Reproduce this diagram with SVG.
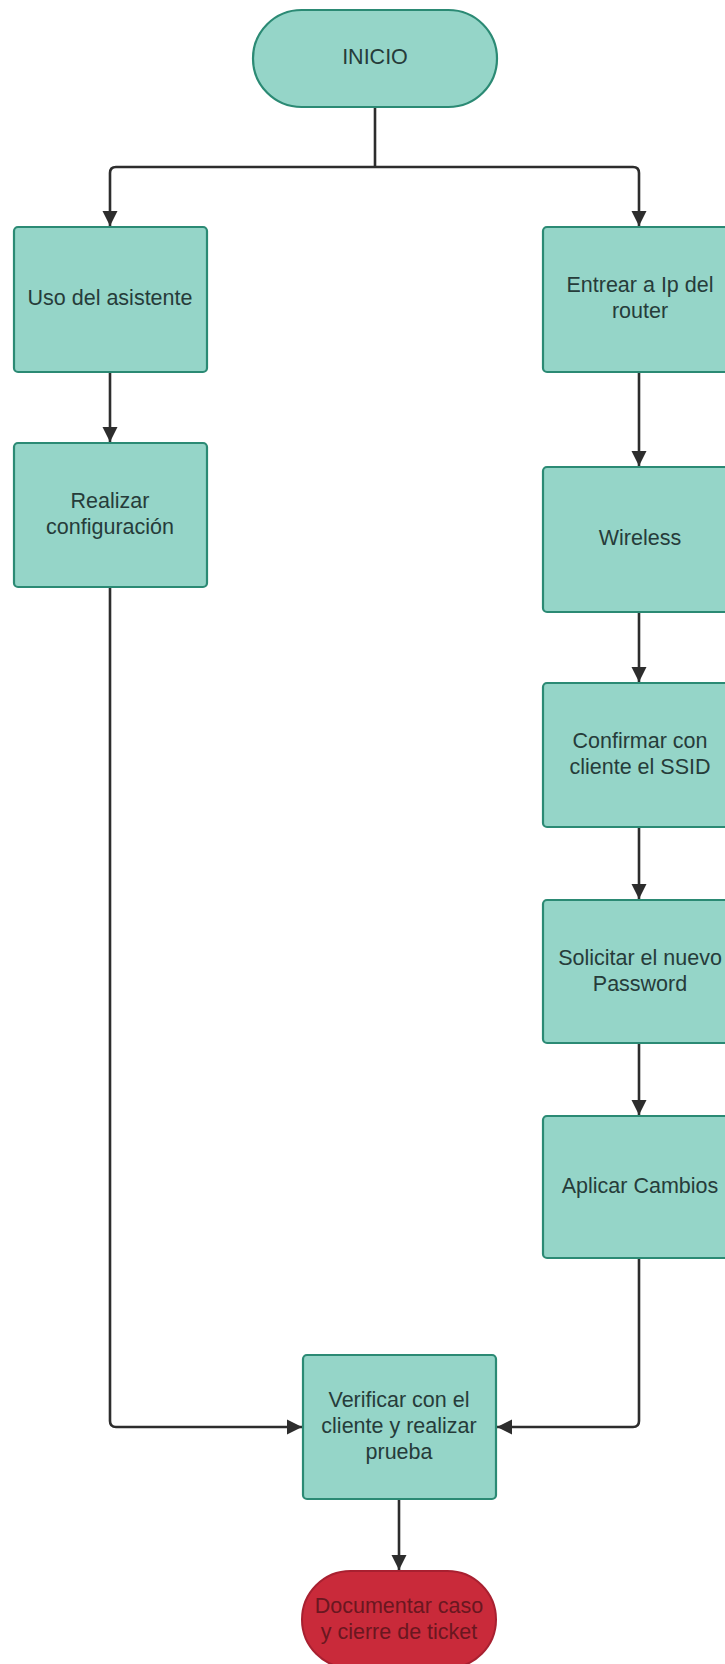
<svg xmlns="http://www.w3.org/2000/svg" width="725" height="1664" viewBox="0 0 725 1664">
<defs>
<style>
.box{fill:#95d5c8;stroke:#2b8a74;stroke-width:2.2}
.end{fill:#c92a3a;stroke:#a82030;stroke-width:2}
.t{font-family:"Liberation Sans",Arial,sans-serif;font-size:21.5px;fill:#263c3a;text-anchor:middle;dominant-baseline:central}
.tr{font-family:"Liberation Sans",Arial,sans-serif;font-size:21.5px;fill:#6a1720;text-anchor:middle;dominant-baseline:central}
.c{fill:none;stroke:#2d2d2d;stroke-width:2.6;stroke-linejoin:round}
</style>
<marker id="ah" viewBox="0 0 15 20" refX="15" refY="10" markerWidth="15" markerHeight="20" markerUnits="userSpaceOnUse" orient="auto">
<path d="M0,2.5 L15,10 L0,17.5 Z" fill="#2d2d2d"/>
</marker>
</defs>
<rect width="725" height="1664" fill="#ffffff"/>
<g id="connectors">
<path class="c" d="M375,107 V167"/>
<path class="c" d="M375,167 H116 Q110,167 110,173 V226" marker-end="url(#ah)"/>
<path class="c" d="M375,167 H633 Q639,167 639,173 V226" marker-end="url(#ah)"/>
<path class="c" d="M110,372 V442" marker-end="url(#ah)"/>
<path class="c" d="M639,372 V466" marker-end="url(#ah)"/>
<path class="c" d="M639,612 V682" marker-end="url(#ah)"/>
<path class="c" d="M639,827 V899" marker-end="url(#ah)"/>
<path class="c" d="M639,1043 V1115" marker-end="url(#ah)"/>
<path class="c" d="M110,587 V1421 Q110,1427 116,1427 H302" marker-end="url(#ah)"/>
<path class="c" d="M639,1258 V1421 Q639,1427 633,1427 H497" marker-end="url(#ah)"/>
<path class="c" d="M399,1499 V1570" marker-end="url(#ah)"/>
</g>
<g id="n-inicio">
<rect class="box" x="253" y="10" width="244" height="97" rx="48.5"/>
<text class="t" x="375" y="57">INICIO</text>
</g>
<g id="n-uso">
<rect class="box" x="14" y="227" width="193" height="145" rx="4"/>
<text class="t" x="110" y="298">Uso del asistente</text>
</g>
<g id="n-realizar">
<rect class="box" x="14" y="443" width="193" height="144" rx="4"/>
<text class="t" x="110" y="501">Realizar</text>
<text class="t" x="110" y="527">configuración</text>
</g>
<g id="n-entrear">
<rect class="box" x="543" y="227" width="194" height="145" rx="4"/>
<text class="t" x="640" y="285">Entrear a Ip del</text>
<text class="t" x="640" y="311">router</text>
</g>
<g id="n-wireless">
<rect class="box" x="543" y="467" width="194" height="145" rx="4"/>
<text class="t" x="640" y="538">Wireless</text>
</g>
<g id="n-confirmar">
<rect class="box" x="543" y="683" width="194" height="144" rx="4"/>
<text class="t" x="640" y="741">Confirmar con</text>
<text class="t" x="640" y="767">cliente el SSID</text>
</g>
<g id="n-solicitar">
<rect class="box" x="543" y="900" width="194" height="143" rx="4"/>
<text class="t" x="640" y="958">Solicitar el nuevo</text>
<text class="t" x="640" y="984">Password</text>
</g>
<g id="n-aplicar">
<rect class="box" x="543" y="1116" width="194" height="142" rx="4"/>
<text class="t" x="640" y="1186">Aplicar Cambios</text>
</g>
<g id="n-verificar">
<rect class="box" x="303" y="1355" width="193" height="144" rx="4"/>
<text class="t" x="399" y="1400">Verificar con el</text>
<text class="t" x="399" y="1426">cliente y realizar</text>
<text class="t" x="399" y="1452">prueba</text>
</g>
<g id="n-documentar">
<rect class="end" x="302" y="1571" width="194" height="97" rx="48.5"/>
<text class="tr" x="399" y="1606">Documentar caso</text>
<text class="tr" x="399" y="1632">y cierre de ticket</text>
</g>
</svg>
